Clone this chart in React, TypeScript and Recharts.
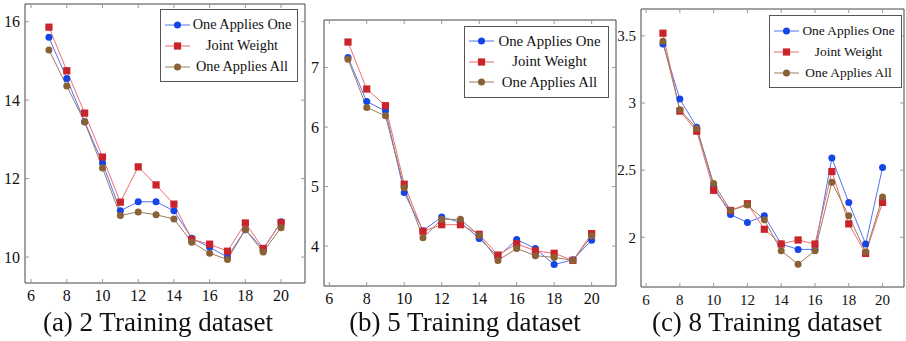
import { LineChart, Line, XAxis, YAxis, Legend, ReferenceArea } from 'recharts';

// dataset sizes on the x axis
const SIZES = [7, 8, 9, 10, 11, 12, 13, 14, 15, 16, 17, 18, 19, 20];
const X_TICKS = [6, 8, 10, 12, 14, 16, 18, 20];

// (a) 2 training sets
const TWO_ONE = [15.6, 14.55, 13.45, 12.4, 11.18, 11.41, 11.41, 11.18, 10.48, 10.25, 10.0, 10.7, 10.2, 10.9];
const TWO_JOINT = [15.86, 14.75, 13.67, 12.55, 11.4, 12.3, 11.84, 11.35, 10.45, 10.33, 10.15, 10.87, 10.22, 10.88];
const TWO_ALL = [15.28, 14.36, 13.44, 12.27, 11.06, 11.15, 11.08, 10.97, 10.38, 10.1, 9.94, 10.7, 10.13, 10.75];
const TWO_Y_TICKS = [10, 12, 14, 16];

// (b) 5 training sets
const FIVE_ONE = [7.17, 6.43, 6.27, 4.9, 4.26, 4.49, 4.4, 4.13, 3.82, 4.11, 3.96, 3.69, 3.77, 4.1];
const FIVE_JOINT = [7.43, 6.64, 6.36, 5.04, 4.25, 4.36, 4.36, 4.2, 3.85, 4.04, 3.92, 3.88, 3.76, 4.21];
const FIVE_ALL = [7.14, 6.33, 6.19, 4.98, 4.14, 4.45, 4.45, 4.18, 3.76, 3.96, 3.84, 3.81, 3.76, 4.17];
const FIVE_Y_TICKS = [4, 5, 6, 7];

// (c) 8 training sets
const EIGHT_ONE = [3.44, 3.03, 2.82, 2.38, 2.17, 2.11, 2.16, 1.95, 1.91, 1.91, 2.59, 2.26, 1.95, 2.52];
const EIGHT_JOINT = [3.52, 2.94, 2.79, 2.35, 2.2, 2.25, 2.06, 1.95, 1.98, 1.95, 2.49, 2.1, 1.88, 2.26];
const EIGHT_ALL = [3.46, 2.95, 2.81, 2.4, 2.2, 2.24, 2.13, 1.9, 1.8, 1.9, 2.41, 2.16, 1.89, 2.3];
const EIGHT_Y_TICKS = [2, 2.5, 3, 3.5];

const FONT = "'Liberation Serif', 'Times New Roman', serif";
const CHART_H = 341;

const SERIES = [
  { key: 'one', name: 'One Applies One', line: '#5074f2', mark: '#1446e6', shape: 'circle' },
  { key: 'joint', name: 'Joint Weight', line: '#ee6d6d', mark: '#c9232b', shape: 'square' },
  { key: 'all', name: 'One Applies All', line: '#9c7d5e', mark: '#8a6135', shape: 'circle' },
];

const PANELS = [
  {
    id: 'a', caption: '(a) 2 Training dataset', captionX: 158,
    one: TWO_ONE, joint: TWO_JOINT, all: TWO_ALL, yTicks: TWO_Y_TICKS,
    xDomain: [5.66, 21.34], yDomain: [9.34, 16.45],
    left: 0, width: 310, yAxisWidth: 25, marginTop: 4, marginRight: 5, xAxisHeight: 58,
    tickFont: 16, legend: { left: 160, top: 9, width: 138, rowH: 21, font: 14.3 },
  },
  {
    id: 'b', caption: '(b) 5 Training dataset', captionX: 465,
    one: FIVE_ONE, joint: FIVE_JOINT, all: FIVE_ALL, yTicks: FIVE_Y_TICKS,
    xDomain: [5.72, 21.3], yDomain: [3.33, 7.8],
    left: 295, width: 325, yAxisWidth: 29, marginTop: 20, marginRight: 4, xAxisHeight: 55,
    tickFont: 16, legend: { left: 169, top: 26, width: 145, rowH: 20.5, font: 14.8 },
  },
  {
    id: 'c', caption: '(c) 8 Training dataset', captionX: 767,
    one: EIGHT_ONE, joint: EIGHT_JOINT, all: EIGHT_ALL, yTicks: EIGHT_Y_TICKS,
    xDomain: [5.7, 21.27], yDomain: [1.63, 3.7],
    left: 608, width: 298, yAxisWidth: 33, marginTop: 9, marginRight: 2, xAxisHeight: 54,
    tickFont: 15, legend: { left: 161, top: 15, width: 133, rowH: 21, font: 13.4 },
  },
];

type Panel = (typeof PANELS)[number];

function Marker({ shape, color, cx, cy }: { shape: string; color: string; cx: number; cy: number }) {
  if (shape === 'square') {
    return <rect x={cx - 3.6} y={cy - 3.6} width={7.2} height={7.2} fill={color} />;
  }
  return <circle cx={cx} cy={cy} r={3.5} fill={color} />;
}

function LegendBox({ payload, cfg }: { payload?: any[]; cfg: Panel['legend'] }) {
  // keep the plotting order rather than the alphabetical one
  const shown = new Set((payload ?? []).map((item) => item.dataKey));
  const rows = SERIES.filter((s) => shown.has(s.key));
  return (
    <div
      style={{
        border: '1px solid #555',
        background: '#fff',
        width: cfg.width,
        boxSizing: 'border-box',
        padding: '4px 0',
        fontFamily: FONT,
        fontSize: cfg.font,
        color: '#111',
      }}
    >
      {rows.map((s) => (
        <div key={s.key} style={{ display: 'flex', alignItems: 'center', height: cfg.rowH }}>
          <svg width={30} height={10} style={{ flexShrink: 0 }}>
            <line x1={4} x2={29} y1={5} y2={5} stroke={s.line} strokeWidth={1} />
            <Marker shape={s.shape} color={s.mark} cx={16.5} cy={5} />
          </svg>
          <span style={{ flex: 1, textAlign: 'center', whiteSpace: 'nowrap', paddingRight: 4 }}>{s.name}</span>
        </div>
      ))}
    </div>
  );
}

function PanelChart({ p }: { p: Panel }) {
  const data = SIZES.map((x, i) => ({ x, one: p.one[i], joint: p.joint[i], all: p.all[i] }));
  const plotH = CHART_H - p.marginTop - p.xAxisHeight;
  const plotW = p.width - p.yAxisWidth - p.marginRight;

  const xTick = (t: any) => (
    <g>
      <line x1={t.x} x2={t.x} y1={t.y} y2={t.y - 4} stroke="#999" />
      <line x1={t.x} x2={t.x} y1={t.y - plotH} y2={t.y - plotH + 4} stroke="#999" />
      <text x={t.x} y={t.y + 18} textAnchor="middle" fontSize={p.tickFont} fontFamily={FONT} fill="#111">
        {t.payload.value}
      </text>
    </g>
  );

  const yTick = (t: any) => (
    <g>
      <line x1={t.x} x2={t.x + 4} y1={t.y} y2={t.y} stroke="#999" />
      <line x1={t.x + plotW} x2={t.x + plotW - 4} y1={t.y} y2={t.y} stroke="#999" />
      <text x={t.x - 5} y={t.y} dy="0.35em" textAnchor="end" fontSize={p.tickFont} fontFamily={FONT} fill="#111">
        {t.payload.value}
      </text>
    </g>
  );

  return (
    <div style={{ position: 'absolute', left: p.left, top: 0 }}>
      <LineChart
        width={p.width}
        height={CHART_H}
        data={data}
        margin={{ top: p.marginTop, right: p.marginRight, bottom: 0, left: 0 }}
      >
        <XAxis
          dataKey="x"
          type="number"
          domain={p.xDomain}
          ticks={X_TICKS}
          allowDataOverflow
          height={p.xAxisHeight}
          axisLine={false}
          tickLine={false}
          tickSize={0}
          tickMargin={0}
          interval={0}
          tick={xTick}
        />
        <YAxis
          type="number"
          domain={p.yDomain}
          ticks={p.yTicks}
          allowDataOverflow
          width={p.yAxisWidth}
          axisLine={false}
          tickLine={false}
          tickSize={0}
          tickMargin={0}
          interval={0}
          tick={yTick}
        />
        <ReferenceArea
          x1={p.xDomain[0]}
          x2={p.xDomain[1]}
          y1={p.yDomain[0]}
          y2={p.yDomain[1]}
          fill="none"
          stroke="#444"
          strokeWidth={1}
        />
        {SERIES.map((s) => (
          <Line
            key={s.key}
            type="linear"
            dataKey={s.key}
            name={s.name}
            stroke={s.line}
            strokeWidth={1}
            isAnimationActive={false}
            activeDot={false}
            dot={(d: any) => (
              <Marker key={`${s.key}-${d.index}`} shape={s.shape} color={s.mark} cx={d.cx} cy={d.cy} />
            )}
          />
        ))}
        <Legend
          layout="horizontal"
          verticalAlign="middle"
          align="center"
          wrapperStyle={{ left: p.legend.left, top: p.legend.top, width: p.legend.width }}
          content={(props: any) => <LegendBox payload={props.payload} cfg={p.legend} />}
        />
      </LineChart>
    </div>
  );
}

export default function App() {
  return (
    <div style={{ position: 'fixed', left: 0, top: 0, width: 906, height: 341, background: '#fff', fontFamily: FONT }}>
      {PANELS.map((p) => (
        <PanelChart key={p.id} p={p} />
      ))}
      {PANELS.map((p) => (
        <div
          key={`cap-${p.id}`}
          style={{
            position: 'absolute',
            left: p.captionX - 160,
            width: 320,
            top: 309,
            textAlign: 'center',
            fontSize: 27,
            lineHeight: '27px',
            color: '#111',
            whiteSpace: 'nowrap',
          }}
        >
          {p.caption}
        </div>
      ))}
    </div>
  );
}
